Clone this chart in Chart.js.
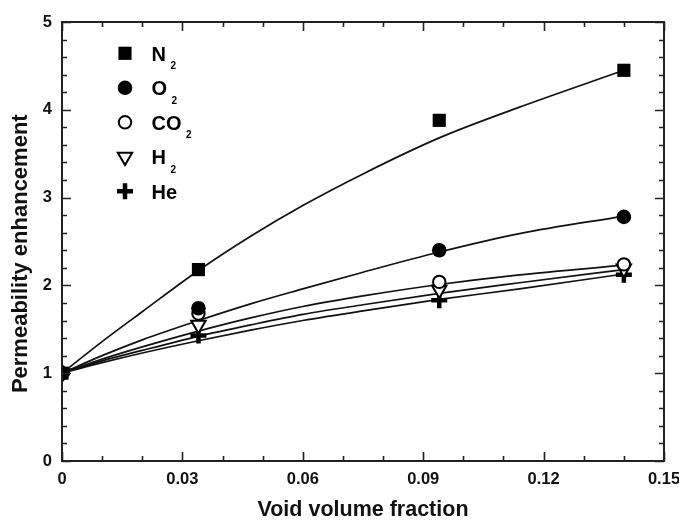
<!DOCTYPE html>
<html>
<head>
<meta charset="utf-8">
<script src="https://cdn.jsdelivr.net/npm/chart.js@4.4.0/dist/chart.umd.min.js"></script>
<style>
  html, body { margin: 0; padding: 0; background: #ffffff; }
  #wrap { width: 679px; height: 520px; }
</style>
</head>
<body>
<div id="wrap"><canvas id="c" width="679" height="520"></canvas></div>
<script>
// ---- measured data points ----
const xPoints   = [0, 0.034, 0.094, 0.14];
const n2Points  = [1, 2.18, 3.88, 4.45];
const o2Points  = [1, 1.74, 2.40, 2.78];
const co2Points = [1, 1.68, 2.04, 2.24];
const h2Points  = [1, 1.55, 1.95, 2.19];
const hePoints  = [1, 1.43, 1.83, 2.12];

// ---- fitted curves ----
const fitX   = [0, 0.01, 0.02, 0.034, 0.047, 0.06, 0.075, 0.094, 0.114, 0.14];
const n2Fit  = [1, 1.36, 1.70, 2.17, 2.56, 2.91, 3.27, 3.68, 4.03, 4.45];
const o2Fit  = [1, 1.20, 1.38, 1.60, 1.79, 1.96, 2.15, 2.38, 2.59, 2.79];
const co2Fit = [1, 1.16, 1.30, 1.48, 1.63, 1.76, 1.88, 2.01, 2.12, 2.23];
const h2Fit  = [1, 1.14, 1.26, 1.42, 1.55, 1.67, 1.78, 1.91, 2.03, 2.18];
const heFit  = [1, 1.12, 1.23, 1.37, 1.49, 1.60, 1.71, 1.84, 1.96, 2.13];

// ---- ticks ----
const xTicks      = [0, 0.03, 0.06, 0.09, 0.12, 0.15];
const xTickLabels = ['0', '0.03', '0.06', '0.09', '0.12', '0.15'];
const xMinor      = [0.01, 0.02, 0.04, 0.05, 0.07, 0.08, 0.10, 0.11, 0.13, 0.14];
const yTicks      = [0, 1, 2, 3, 4, 5];
const yTickLabels = ['0', '1', '2', '3', '4', '5'];
const yMinor      = [0.2,0.4,0.6,0.8,1.2,1.4,1.6,1.8,2.2,2.4,2.6,2.8,3.2,3.4,3.6,3.8,4.2,4.4,4.6,4.8];

// ---- legend text ----
const legendLabels = ['N', 'O', 'CO', 'H', 'He'];
const legendSubs   = ['2', '2', '2', '2', ''];

const FONT = "'Liberation Sans', Arial, Helvetica, sans-serif";
const AXIS_COLOR = '#222';

function pts(xs, ys) { return xs.map((x, i) => ({ x: x, y: ys[i] })); }

const markerStyles = [
  { pointStyle: 'rect',     radius: 9.3, rotation: 0,   bg: '#000', bw: 0 },
  { pointStyle: 'circle',   radius: 7.3, rotation: 0,   bg: '#000', bw: 0 },
  { pointStyle: 'circle',   radius: 6.2, rotation: 0,   bg: '#fff', bw: 2 },
  { pointStyle: 'triangle', radius: 8.3, rotation: 180, bg: '#fff', bw: 2 },
  { pointStyle: 'cross',    radius: 8,   rotation: 0,   bg: '#000', bw: 4.5 }
];
const pointSeries = [n2Points, o2Points, co2Points, h2Points, hePoints];
const fitSeries   = [n2Fit, o2Fit, co2Fit, h2Fit, heFit];

const datasets = [];
pointSeries.forEach((ys, i) => {
  const m = markerStyles[i];
  datasets.push({
    label: legendLabels[i] + legendSubs[i],
    data: pts(xPoints, ys),
    showLine: false,
    pointStyle: m.pointStyle,
    pointRadius: m.radius,
    pointRotation: m.rotation,
    pointBackgroundColor: m.bg,
    pointBorderColor: '#000',
    pointBorderWidth: m.bw,
    order: 0
  });
});
fitSeries.forEach((ys, i) => {
  datasets.push({
    label: 'fit ' + legendLabels[i],
    data: pts(fitX, ys),
    showLine: true,
    borderColor: '#111',
    borderWidth: 1.7,
    pointRadius: 0,
    cubicInterpolationMode: 'monotone',
    fill: false,
    order: 1
  });
});

const framePlugin = {
  id: 'frame',
  afterDraw(chart) {
    const ctx = chart.ctx;
    const a = chart.chartArea;
    const xs = chart.scales.x, ys = chart.scales.y;
    ctx.save();
    ctx.strokeStyle = AXIS_COLOR;
    ctx.lineWidth = 2;
    ctx.strokeRect(a.left, a.top, a.right - a.left, a.bottom - a.top);
    ctx.lineWidth = 1.6;
    ctx.beginPath();
    const tickX = (v, len) => {
      const p = Math.round(xs.getPixelForValue(v)) + 0.5;
      ctx.moveTo(p, a.bottom); ctx.lineTo(p, a.bottom - len);
      ctx.moveTo(p, a.top);    ctx.lineTo(p, a.top + len);
    };
    const tickY = (v, len) => {
      const p = Math.round(ys.getPixelForValue(v)) + 0.5;
      ctx.moveTo(a.left, p);  ctx.lineTo(a.left + len, p);
      ctx.moveTo(a.right, p); ctx.lineTo(a.right - len, p);
    };
    xTicks.forEach(v => tickX(v, 9));
    xMinor.forEach(v => tickX(v, 5));
    yTicks.forEach(v => tickY(v, 9));
    yMinor.forEach(v => tickY(v, 5));
    ctx.stroke();

    // legend inside the plot
    const lx = 125, ly0 = 53.3, dy = 34.5, tx = 151.5;
    legendLabels.forEach((lab, i) => {
      const m = markerStyles[i];
      const y = ly0 + dy * i;
      ctx.fillStyle = m.bg;
      ctx.strokeStyle = '#000';
      ctx.lineWidth = m.bw;
      Chart.helpers.drawPoint(ctx, {
        pointStyle: m.pointStyle, radius: m.radius, rotation: m.rotation, borderWidth: m.bw
      }, lx, y);
      ctx.fillStyle = '#000';
      ctx.textAlign = 'left';
      ctx.textBaseline = 'alphabetic';
      ctx.font = 'bold 20px ' + FONT;
      ctx.fillText(lab, tx, y + 7.5);
      if (legendSubs[i]) {
        const w = ctx.measureText(lab).width;
        ctx.font = 'bold 10px ' + FONT;
        ctx.fillText(legendSubs[i], tx + w + 4.5, y + 16);
      }
    });
    ctx.restore();
  }
};

new Chart(document.getElementById('c'), {
  type: 'scatter',
  data: { datasets: datasets },
  plugins: [framePlugin],
  options: {
    responsive: false,
    animation: false,
    events: [],
    layout: { padding: { left: 0, top: 22, right: 15, bottom: 0 } },
    plugins: { legend: { display: false }, tooltip: { enabled: false } },
    scales: {
      x: {
        type: 'linear', min: 0, max: 0.15,
        afterBuildTicks(scale) { scale.ticks = xTicks.map(v => ({ value: v })); },
        afterFit(scale) { scale.height = 59; scale.paddingLeft = 0; scale.paddingRight = 0; },
        grid: { display: false, drawTicks: false },
        border: { display: false },
        ticks: {
          padding: 9,
          color: '#111',
          font: { family: FONT, size: 16.5, weight: 'bold' },
          maxRotation: 0, autoSkip: false,
          callback(v, i) { return xTickLabels[i]; }
        },
        title: {
          display: true, text: 'Void volume fraction', color: '#111',
          font: { family: FONT, size: 21.5, weight: 'bold', lineHeight: 0.95 },
          padding: { top: 0, bottom: 0 }
        }
      },
      y: {
        type: 'linear', min: 0, max: 5,
        afterBuildTicks(scale) { scale.ticks = yTicks.map(v => ({ value: v })); },
        afterFit(scale) { scale.width = 62; scale.paddingTop = 0; scale.paddingBottom = 0; },
        grid: { display: false, drawTicks: false },
        border: { display: false },
        ticks: {
          padding: 10,
          color: '#111',
          font: { family: FONT, size: 16.5, weight: 'bold' },
          callback(v, i) { return yTickLabels[i]; }
        },
        title: {
          display: true, text: 'Permeability enhancement\u00a0\u00a0\u00a0\u00a0', color: '#111',
          font: { family: FONT, size: 22, weight: 'bold' },
          padding: { top: 8, bottom: 0 }
        }
      }
    }
  }
});
</script>
</body>
</html>
